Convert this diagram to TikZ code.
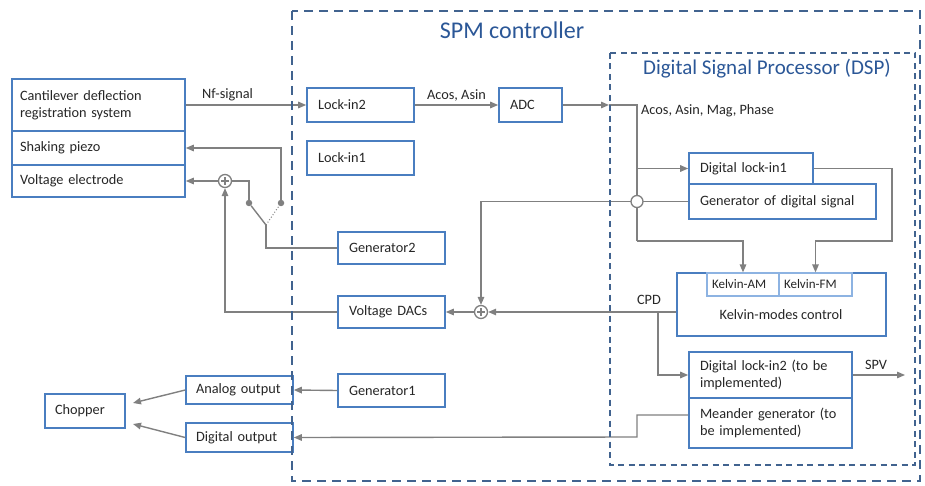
\documentclass[tikz,border=0pt]{standalone}
\usepackage{fontspec}
\setmainfont{Carlito}
\usetikzlibrary{arrows.meta,calc}

\definecolor{boxblue}{HTML}{4A7EC0}
\definecolor{lightblue}{HTML}{8DB3E2}
\definecolor{frameblue}{HTML}{41638F}
\definecolor{titleblue}{HTML}{2B5797}
\definecolor{linegray}{HTML}{808080}
\definecolor{txt}{HTML}{262626}

\newcommand\diagfont{\fontsize{14.3pt}{17pt}\selectfont}
\newcommand\smallfont{\fontsize{13pt}{15pt}\selectfont}

\tikzset{
  blk/.style={draw=boxblue, line width=1.6pt, fill=white, align=left,
    inner ysep=0pt, text=txt, font=\diagfont},
  conn/.style={draw=linegray, line width=1.4pt},
  arr/.style={conn, -{Triangle[length=8pt,width=6.5pt]}},
  lbl/.style={text=txt, font=\diagfont, inner sep=0pt},
  sumnode/.style={circle, draw=linegray, line width=1.3pt, fill=white,
    minimum size=13pt, inner sep=0pt,
    path picture={\draw[linegray, line width=1.1pt]
      (path picture bounding box.center) ++(-4pt,0) -- ++(8pt,0)
      (path picture bounding box.center) ++(0,-4pt) -- ++(0,8pt);}},
  hop/.style={circle, draw=linegray, line width=1.3pt, fill=white,
    minimum size=12pt, inner sep=0pt},
  dotn/.style={circle, fill=linegray, minimum size=6.5pt, inner sep=0pt},
  spmframe/.style={draw=frameblue, line width=2.6pt, dash pattern=on 9pt off 6pt},
  dspframe/.style={draw=frameblue, line width=1.8pt, dash pattern=on 6pt off 4.5pt},
}

% box from (x1,y1) to (x2,y2) with left-aligned text; optional arg = side padding
\newcommand\mkbox[7][10]{%
  \pgfmathsetmacro\bxw{#5-#3}%
  \pgfmathsetmacro\bxh{#6-#4}%
  \pgfmathsetmacro\bxt{#5-#3-2*#1}%
  \node[blk, inner xsep=#1pt, minimum width=\bxw pt, minimum height=\bxh pt,
    text width=\bxt pt] (#2) at ({(#3+#5)/2},{(#4+#6)/2}) {#7};}

\begin{document}
\begin{tikzpicture}[x=1pt,y=-1pt]
\useasboundingbox (0,0) rectangle (925,486);

% sensor / actuator stack
\mkbox[8]{cant}{12}{79}{185}{131}{Cantilever deflection\\registration system}
\mkbox[8]{piezo}{12}{131}{185}{165}{Shaking piezo}
\mkbox[8]{elec}{12}{165}{185}{197}{Voltage electrode}

% analog part of the controller
\mkbox[11]{lockB}{307}{88}{414}{122}{Lock-in2}
\mkbox[11]{lockA}{307}{141}{414}{175}{Lock-in1}
\mkbox[11]{adc}{499}{88}{562}{122}{ADC}
\mkbox[11]{gen2}{338}{232}{445}{264}{Generator2}
\mkbox[11]{dacs}{338}{296}{445}{328}{Voltage DACs}
\mkbox[11]{gen1}{338}{374}{445}{407}{Generator1}

% outputs and chopper
\mkbox[10]{anout}{186}{376}{293}{404}{Analog output}
\mkbox[10]{digout}{186}{423}{293}{452}{Digital output}
\mkbox[10]{chop}{45}{394}{125}{428}{Chopper}

% DSP blocks
\mkbox[11]{dlock1}{689}{153}{813}{184}{Digital lock-in1}
\mkbox[11]{gends}{689}{184}{876}{219}{Generator of digital signal}
\node[blk, minimum width=209pt, minimum height=63pt] (kelv) at (781.5,304.5) {};
\node[lbl] (kelvtxt) at (781,315) {Kelvin-modes control};
\node[blk, draw=lightblue, line width=1.2pt, font=\smallfont, inner xsep=5pt,
  minimum width=72pt, minimum height=23pt, text width=62pt] (kam) at (743,284.5) {Kelvin-AM};
\node[blk, draw=lightblue, line width=1.2pt, font=\smallfont, inner xsep=5pt,
  minimum width=73pt, minimum height=23pt, text width=63pt] (kfm) at (815.5,284.5) {Kelvin-FM};
\mkbox[11]{dlock2}{689}{352}{852}{398}{Digital lock-in2 (to be\\implemented)}
\mkbox[11]{meand}{689}{398}{852}{448}{Meander generator (to\\be implemented)}

% junctions
\node[sumnode] (sumL) at (225,181) {};
\node[sumnode] (sumR) at (481,312) {};
\node[dotn] (swA) at (249,203) {};
\node[dotn] (swB) at (281,203) {};
\coordinate (piv) at (266,225);
\coordinate (dspin) at (609,105);
\coordinate (jn) at (637,105);
\coordinate (jd) at (637,241);
\coordinate (rt) at (892,241);
\coordinate (cpdj) at (658,312);
\coordinate (mg) at (637,437);
\coordinate (spvend) at (905,375);
\coordinate (chopA) at (133,403);
\coordinate (chopB) at (133,424);

% signal path to the DSP
\draw[arr] (cant.east) -- (lockB.west) node[lbl, pos=0.13, anchor=south west, yshift=3pt] (nflbl) {Nf-signal};
\draw[arr] (lockB.east) -- (adc.west) node[lbl, midway, anchor=south, yshift=3pt] (aclbl) {Acos, Asin};
\draw[arr] (adc.east) -- (dspin);
\draw[conn] (dspin) -- (jn) -- (jd);
\draw[arr] (jn |- dlock1.west) -- (dlock1.west);
\draw[arr] (jd) -| (kam.north);
\draw[arr] (dlock1.east) -| (rt) -| (kfm.north);
\node[lbl, anchor=west] (amlbl) at (641,111) {Acos, Asin, Mag, Phase};

% generator feedback and CPD
\draw[arr] (gends.west) -| (sumR.north);
\node[hop] (hopc) at (jn |- gends.west) {};
\draw[arr] (kelv.west |- sumR) -- (sumR.east);
\node[lbl] (cpdlbl) at (649,300) {CPD};
\draw[arr] (cpdj) |- (dlock2.west);
\draw[arr] (dlock2.east) -- (spvend);
\node[lbl] (spvlbl) at (876,365) {SPV};
\draw[arr] ($(meand.west)+(0,-8)$) -| (mg) -- (digout.east);

% voltage path and switch
\draw[arr] (sumR.west) -- (dacs.east);
\draw[arr] (dacs.west) -| (sumL.south);
\draw[arr] (sumL.west) -- (elec.east);
\draw[conn] (sumL.east) -| (swA);
\draw[arr] (swB) |- (piezo.east);
\draw[conn] (piv) -- (swA);
\draw[draw=linegray, line width=1pt, dotted] (piv) -- (swB);
\draw[conn] (piv) |- (gen2.west);

% outputs
\draw[arr] (gen1.west) -- (anout.east);
\draw[arr] (anout.west) -- (chopA);
\draw[arr] (digout.west) -- (chopB);

% frames and titles
\draw[spmframe] (292,11) rectangle (920,481);
\node[text=titleblue, font=\fontsize{24pt}{28pt}\selectfont] (spmtitle) at (512,30) {SPM controller};
\draw[dspframe] (610,53) rectangle (915,465);
\node[text=titleblue, font=\fontsize{21pt}{25pt}\selectfont] (dsptitle) at (767,69) {Digital Signal Processor (DSP)};
\end{tikzpicture}
\end{document}
